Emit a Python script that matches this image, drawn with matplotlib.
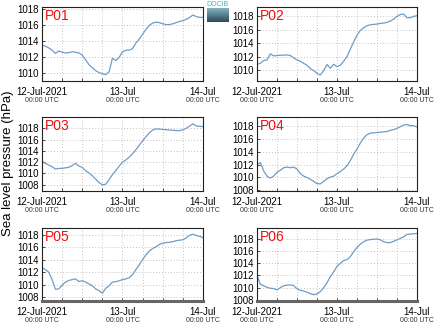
import numpy as np
import matplotlib
matplotlib.use("Agg")
import matplotlib.pyplot as plt

plt.rcParams['font.family'] = ['Liberation Sans', 'DejaVu Sans']

# ---------------- data: hourly sea level pressure, 12-Jul-2021 00 UTC .. 14-Jul 00 UTC ----------------
hours = list(range(49))

p01 = [1013.55, 1013.4, 1013.2, 1012.9, 1012.5, 1012.8, 1012.65, 1012.55, 1012.6, 1012.7,
       1012.65, 1012.55, 1012.3, 1011.7, 1011.1, 1010.7, 1010.35, 1010.1, 1009.95, 1009.85,
       1010.2, 1011.9, 1011.6, 1012.0, 1012.7, 1012.9, 1012.9, 1013.1, 1013.8, 1014.3,
       1014.9, 1015.5, 1016.0, 1016.3, 1016.4, 1016.35, 1016.2, 1016.1, 1016.1, 1016.2,
       1016.35, 1016.5, 1016.6, 1016.75, 1017.0, 1017.3, 1017.1, 1017.0, 1017.0]
p02 = [1010.85, 1011.0, 1011.4, 1011.5, 1012.4, 1012.1, 1012.15, 1012.2, 1012.2, 1012.25,
       1012.15, 1011.8, 1011.5, 1011.3, 1011.0, 1010.7, 1010.2, 1009.9, 1009.5, 1009.25,
       1009.9, 1010.8, 1010.25, 1010.85, 1010.5, 1010.7, 1011.3, 1012.0, 1013.1, 1014.2,
       1015.2, 1015.9, 1016.3, 1016.6, 1016.75, 1016.8, 1016.85, 1016.95, 1017.0, 1017.1,
       1017.3, 1017.6, 1018.0, 1018.3, 1018.35, 1017.8, 1017.8, 1018.0, 1018.1]
p03 = [1012.2, 1011.8, 1011.5, 1011.2, 1010.8, 1010.9, 1010.9, 1011.0, 1011.1, 1011.4,
       1011.8, 1011.3, 1011.1, 1010.5, 1010.1, 1009.6, 1009.0, 1008.4, 1008.0, 1008.1,
       1008.9, 1009.8, 1010.5, 1011.3, 1012.0, 1012.4, 1012.9, 1013.5, 1014.2, 1015.0,
       1015.8, 1016.5, 1017.2, 1017.7, 1017.9, 1017.85, 1017.8, 1017.75, 1017.7, 1017.65,
       1017.6, 1017.6, 1017.7, 1018.0, 1018.4, 1018.8, 1018.4, 1018.35, 1018.3]
p04 = [1012.0, 1012.3, 1011.0, 1010.2, 1009.9, 1010.2, 1010.8, 1011.1, 1011.5, 1011.6,
       1011.5, 1011.6, 1011.3, 1010.6, 1010.2, 1010.0, 1009.7, 1009.4, 1009.05, 1009.0,
       1009.4, 1009.8, 1010.05, 1010.2, 1010.6, 1010.9, 1011.3, 1011.8, 1012.6, 1013.6,
       1014.4, 1015.3, 1016.1, 1016.6, 1016.85, 1016.9, 1016.95, 1017.0, 1017.05, 1017.1,
       1017.3, 1017.4, 1017.6, 1017.85, 1018.1, 1018.2, 1018.0, 1018.0, 1017.8]
p05 = [1012.75, 1012.4, 1012.0, 1010.8, 1009.25, 1009.3, 1009.9, 1010.4, 1010.65, 1010.8,
       1010.9, 1010.5, 1010.6, 1010.4, 1010.1, 1009.8, 1009.3, 1009.0, 1008.6, 1009.4,
       1009.8, 1010.4, 1010.45, 1010.6, 1010.8, 1010.9, 1011.1, 1011.6, 1012.4, 1013.2,
       1014.0, 1014.8, 1015.4, 1015.8, 1016.1, 1016.45, 1016.65, 1016.75, 1016.8, 1016.9,
       1017.05, 1017.15, 1017.2, 1017.5, 1017.95, 1018.1, 1017.9, 1017.75, 1017.55]
p06 = [1012.0, 1010.55, 1010.3, 1010.05, 1009.9, 1009.85, 1009.6, 1010.0, 1010.3, 1010.4,
       1010.45, 1010.35, 1009.8, 1009.55, 1009.45, 1009.25, 1009.0, 1008.85, 1008.95, 1009.35,
       1010.0, 1010.8, 1011.8, 1012.6, 1013.5, 1014.0, 1014.45, 1014.6, 1015.1, 1015.9,
       1016.6, 1017.15, 1017.55, 1017.8, 1017.9, 1017.95, 1018.0, 1017.85, 1017.55, 1017.4,
       1017.4, 1017.6, 1017.85, 1018.1, 1018.35, 1018.75, 1018.8, 1018.85, 1018.9]

names = ["P01", "P02", "P03", "P04", "P05", "P06"]
series = [p01, p02, p03, p04, p05, p06]
ylims = [(1009.05, 1018.3), (1008.35, 1019.4), (1006.9, 1020.0),
         (1007.9, 1019.35), (1007.35, 1019.1), (1007.8, 1019.8)]
yticks = [1008, 1010, 1012, 1014, 1016, 1018]
xtick_pos = [0, 24, 48]
xtick_top = ["12-Jul-2021", "13-Jul", "14-Jul"]
xtick_bot = ["00:00 UTC", "00:00 UTC", "00:00 UTC"]

W, H = 435, 327
fig = plt.figure(figsize=(W / 100, H / 100), dpi=100)

# axes boxes in pixels: left, right / top, bottom
cols = [(42, 203), (257, 417)]
rows = [(7, 81), (117, 191), (228, 301)]

line_col = "#6f9cc6"
for i, (name, vals) in enumerate(zip(names, series)):
    r, c = divmod(i, 2)
    x0, x1 = cols[c]
    y0, y1 = rows[r]
    ax = fig.add_axes([x0 / W, 1 - y1 / H, (x1 - x0) / W, (y1 - y0) / H])
    ax.plot(hours, vals, color=line_col, lw=0.9)
    ax.set_yticks(yticks)
    ax.set_xticks(xtick_pos)
    ax.set_xticklabels(xtick_top)
    ax.set_xticks(range(6, 48, 6), minor=True)
    ax.set_xlim(0, 48)
    ax.set_ylim(*ylims[i])  # after set_yticks so the ticks don't widen the range
    ax.grid(True, which="both", ls=(0, (1, 2.5)), lw=0.6, color="#b0b0b0")
    ax.tick_params(axis="both", which="both", direction="in", labelsize=7, pad=2,
                   length=2, width=0.5)
    ax.tick_params(axis="x", which="major", pad=4)
    for s in ax.spines.values():
        s.set_linewidth(0.8)
        s.set_color("#222222")
    if r == 2:
        ax.spines["bottom"].set_linewidth(2.2)
        ax.spines["bottom"].set_color("#666666")
    for xp, lab in zip(xtick_pos, xtick_bot):
        ax.text(xp, -0.22, lab, transform=ax.get_xaxis_transform(), ha="center", va="top",
                fontsize=5, color="#333333")
    ax.text(0.02, 0.97, name, transform=ax.transAxes, ha="left", va="top",
            fontsize=10, color="#ee1111")

fig.text(8 / W, 1 - 163 / H, "Sea level pressure (hPa)", rotation=90, ha="center", va="center",
         fontsize=9.5)

# small logo block top middle
lax = fig.add_axes([207 / W, 1 - 22 / H, 21 / W, 14 / H])
grad = np.linspace(0, 1, 20).reshape(-1, 1)
lax.imshow(grad, aspect="auto", cmap=matplotlib.colors.LinearSegmentedColormap.from_list(
    "lg", ["#7fb2bd", "#2f4a5c"]), extent=(0, 1, 0, 1))
lax.axis("off")
fig.text(217.5 / W, 1 - 5 / H, "DOCIB", ha="center", va="center", fontsize=5, color="#35b8d0")

fig.savefig("out.png", dpi=100)
